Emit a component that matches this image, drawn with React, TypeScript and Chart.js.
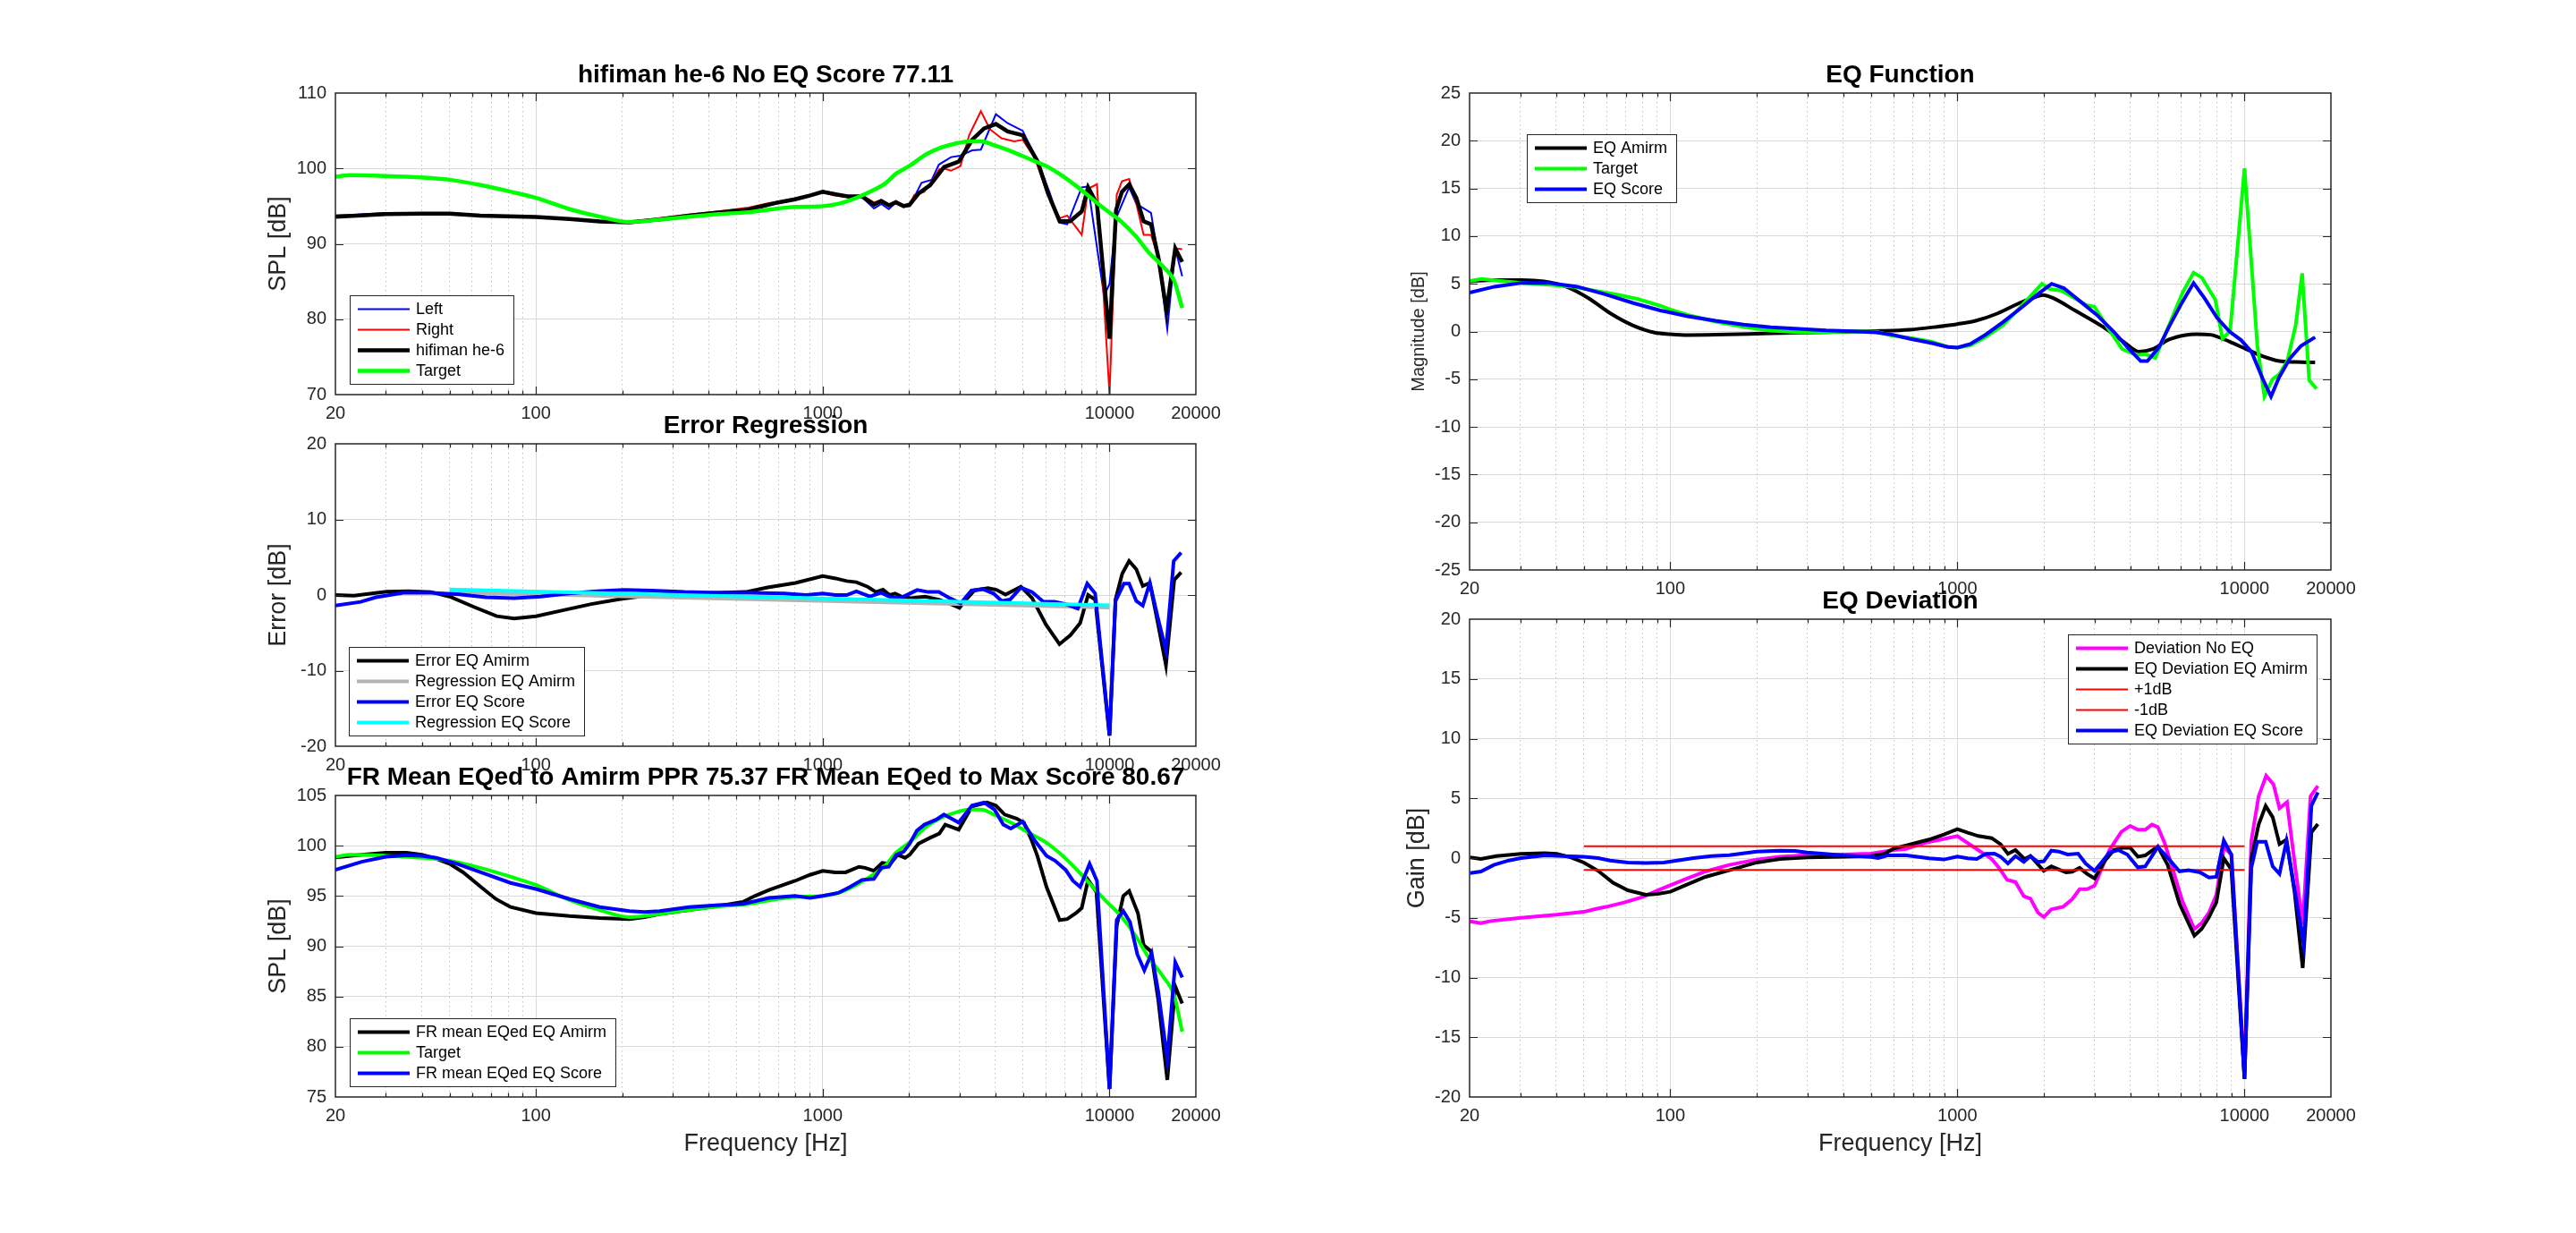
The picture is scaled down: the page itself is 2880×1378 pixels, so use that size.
import React, { useEffect, useRef } from 'react';
import { Chart, registerables } from 'chart.js';

Chart.register(...registerables);

const FONT = '"Liberation Sans", Arial, Helvetica, sans-serif';
const INK = '#262626';
Chart.defaults.font.family = FONT;

// ---------- axis ticks ----------
const xLabelTicks = [20, 100, 1000, 10000, 20000];
const xMinorTicks = [30, 40, 50, 60, 70, 80, 90, 200, 300, 400, 500, 600, 700, 800, 900, 2000, 3000, 4000, 5000, 6000, 7000, 8000, 9000];
const xTickValues = [...xLabelTicks, ...xMinorTicks].sort((a, b) => a - b);
const yTicksSpl = [70, 80, 90, 100, 110];
const yTicksErr = [-20, -10, 0, 10, 20];
const yTicksFr = [75, 80, 85, 90, 95, 100, 105];
const yTicksEq = [-25, -20, -15, -10, -5, 0, 5, 10, 15, 20, 25];
const yTicksDev = [-20, -15, -10, -5, 0, 5, 10, 15, 20];

// ---------- panel 1 : raw FR ----------
const fHe6 = [20, 30, 40, 50, 64, 100, 131, 167, 212, 270, 342, 434, 552, 600, 700, 800, 900, 1000, 1100, 1220, 1370, 1510, 1600, 1700, 1800, 1915, 2010, 2160, 2370, 2650, 2980, 3320, 3650, 4015, 4415, 4980, 5620, 6100, 6700, 7290, 8000, 8420, 9040, 10000, 10540, 11050, 11710, 12400, 13150, 13950, 14800, 15800, 16950, 17920];
const he6 = [93.6, 93.95, 94.0, 94.0, 93.75, 93.55, 93.3, 92.96, 92.85, 93.25, 93.75, 94.15, 94.55, 94.9, 95.5, 95.9, 96.4, 96.9, 96.6, 96.3, 96.3, 95.2, 95.7, 95.1, 95.5, 95.0, 95.2, 96.7, 97.8, 100.2, 100.9, 103.8, 105.3, 105.9, 104.9, 104.4, 100.9, 96.7, 93.0, 93.0, 94.3, 97.5, 95.3, 77.4, 94.5, 96.9, 97.9, 96.1, 93.0, 92.6, 88.2, 81.1, 89.4, 87.6];

const fLeft = [20, 30, 40, 50, 64, 100, 131, 167, 212, 270, 342, 434, 552, 700, 800, 900, 1000, 1100, 1220, 1370, 1510, 1600, 1700, 1800, 1915, 2010, 2210, 2400, 2540, 2800, 3020, 3320, 3560, 4015, 4415, 4980, 5620, 6170, 6700, 7120, 8000, 8420, 9570, 10000, 10540, 11710, 12400, 13950, 14800, 15900, 16950, 17920];
const left = [93.7, 94.1, 94.1, 94.1, 93.8, 93.55, 93.3, 92.9, 92.8, 93.1, 93.6, 94.1, 94.5, 95.4, 95.8, 96.4, 97.0, 96.7, 96.2, 96.2, 94.7, 95.3, 94.6, 95.5, 95.0, 95.0, 98.1, 98.5, 100.5, 101.5, 101.7, 102.4, 102.5, 107.2, 106.0, 105.0, 100.9, 96.9, 92.8, 92.6, 97.5, 97.6, 83.1, 84.7, 93.4, 97.5, 95.3, 94.1, 88.2, 78.7, 89.4, 85.7];

const fRight = [20, 30, 40, 50, 64, 100, 131, 167, 212, 270, 342, 434, 552, 650, 800, 900, 1000, 1100, 1220, 1370, 1508, 1600, 1700, 1800, 1915, 2010, 2086, 2260, 2400, 2550, 2645, 2800, 3020, 3240, 3560, 3830, 4200, 4650, 4980, 5500, 6030, 6700, 7120, 8000, 8420, 9040, 10000, 10590, 11050, 11710, 12400, 13150, 13950, 14800, 15800, 16950, 17920];
const right = [93.8, 93.85, 93.9, 93.9, 93.7, 93.55, 93.3, 93.0, 92.9, 93.4, 93.9, 94.3, 94.8, 95.4, 95.9, 96.4, 96.8, 96.4, 96.2, 96.4, 95.5, 95.8, 95.2, 95.7, 95.1, 95.3, 96.5, 96.9, 98.3, 99.9, 100.0, 99.7, 100.3, 104.4, 107.6, 105.2, 104.0, 103.6, 103.8, 101.3, 97.0, 93.4, 93.75, 91.2, 97.3, 97.9, 70, 96.5, 98.3, 98.6, 95.3, 91.2, 91.2, 88.2, 81.1, 89.4, 89.3];

const fTarget = [20, 22.6, 30, 40, 50, 64, 82, 100, 131, 167, 212, 270, 342, 434, 552, 650, 800, 1000, 1130, 1250, 1440, 1650, 1800, 2000, 2300, 2600, 2900, 3240, 3560, 4015, 4525, 5220, 6030, 6800, 7640, 8610, 9710, 10950, 12350, 13600, 15350, 16800, 17920];
const target = [98.9, 99.1, 99.0, 98.8, 98.5, 97.8, 96.9, 96.1, 94.6, 93.6, 92.9, 93.2, 93.6, 93.95, 94.2, 94.55, 94.9, 95.0, 95.3, 95.8, 96.8, 98.0, 99.3, 100.3, 101.9, 102.8, 103.3, 103.6, 103.6, 103.0, 102.3, 101.3, 100.3, 99.1, 97.7, 96.1, 94.5, 93.0, 91.0, 89.0, 87.0, 85.1, 81.5];

// ---------- panel 2 : error regression ----------
const fErrA = [20, 23.2, 28, 30.2, 36, 43, 50, 61, 73, 84, 100, 125, 156, 199, 253, 330, 431, 539, 643, 803, 1000, 1109, 1212, 1310, 1434, 1533, 1623, 1711, 1788, 1906, 2036, 2273, 2540, 2796, 2999, 3160, 3378, 3771, 4028, 4340, 4910, 5370, 6000, 6690, 7310, 7900, 8420, 8910, 10000, 10490, 11070, 11700, 12400, 13060, 13820, 14740, 15730, 16810, 17770];
const errA = [0, -0.1, 0.3, 0.43, 0.5, 0.4, -0.2, -1.6, -2.8, -3.1, -2.8, -2.0, -1.2, -0.5, 0, 0.2, 0.3, 0.4, 1.0, 1.6, 2.5, 2.2, 1.85, 1.7, 1.1, 0.4, 0.7, 0, 0.2, -0.3, -0.4, -0.2, -0.6, -1.2, -1.7, -0.6, 0.6, 0.9, 0.7, 0.05, 1.1, -0.4, -3.9, -6.5, -5.3, -3.7, 0, -0.6, -18.6, -0.6, 2.8, 4.5, 3.4, 1.2, 1.6, -3.7, -9.3, 2.0, 3.0];

const fErrS = [20, 24.5, 27.7, 34.5, 43, 54, 67, 84, 104, 130, 163, 203, 253, 330, 431, 564, 735, 877, 1000, 1109, 1212, 1310, 1460, 1600, 1724, 1866, 2135, 2330, 2540, 2770, 3026, 3300, 3600, 3940, 4210, 4500, 4910, 5370, 5880, 6430, 7030, 7750, 8360, 8910, 10000, 10490, 11220, 11700, 12400, 13060, 13820, 14740, 15730, 16740, 17770];
const errS = [-1.4, -0.9, -0.3, 0.3, 0.3, 0.1, -0.3, -0.4, -0.2, 0.2, 0.5, 0.67, 0.6, 0.4, 0.3, 0.3, 0.2, 0, 0.2, 0, 0, 0.5, -0.2, 0.3, -0.3, -0.4, 0.67, 0.4, 0.4, -0.4, -1.1, 0.6, 0.8, 0.2, -0.8, -0.6, 1.0, 0.4, -0.9, -0.9, -1.2, -1.8, 1.5, 0.2, -18.5, -0.8, 1.5, 1.5, -0.8, -1.4, 1.6, -3.0, -7.3, 4.5, 5.6];

const fReg = [50, 10000];
const regA = [0.35, -1.65];
const regS = [0.75, -1.35];

// ---------- panel 3 : FR mean EQed ----------
const fFrA = [20, 24.7, 30, 35.4, 40, 45, 50, 55.8, 64.3, 72.5, 81.6, 100, 131, 167, 212, 239, 270, 342, 434, 527, 580, 650, 800, 903, 1000, 1105, 1202, 1338, 1404, 1508, 1612, 1720, 1826, 1937, 2010, 2157, 2374, 2550, 2675, 2980, 3315, 3740, 4015, 4310, 4740, 5030, 5340, 5600, 6030, 6700, 7120, 7640, 8000, 8420, 9000, 10000, 10590, 11170, 11710, 12560, 13150, 13950, 14800, 15900, 16950, 17920];
const frA = [98.84, 99.1, 99.3, 99.3, 99.1, 98.7, 98.2, 97.35, 95.9, 94.7, 93.9, 93.3, 93.0, 92.8, 92.7, 92.9, 93.2, 93.6, 94.0, 94.4, 95.0, 95.6, 96.5, 97.1, 97.5, 97.35, 97.35, 97.9, 97.8, 97.5, 98.3, 98.2, 99.1, 98.8, 99.1, 100.2, 100.8, 101.2, 102.1, 101.6, 103.9, 104.3, 104.0, 103.1, 102.7, 102.3, 100.6, 99.0, 95.9, 92.6, 92.7, 93.3, 93.8, 96.6, 95.4, 75.8, 92.0, 95.0, 95.5, 93.3, 90.1, 89.5, 84.6, 76.7, 86.0, 84.3];

const fFrS = [20, 24.7, 30, 35.4, 40, 45, 53.1, 64.3, 81.6, 100, 131, 167, 212, 239, 270, 342, 434, 527, 650, 800, 903, 1000, 1132, 1245, 1371, 1508, 1602, 1700, 1803, 1915, 2010, 2130, 2263, 2490, 2645, 2980, 3315, 3650, 3970, 4260, 4525, 4980, 5490, 6030, 6470, 7030, 7460, 7900, 8520, 9040, 10000, 10590, 11170, 11790, 12500, 13220, 14020, 14800, 15900, 16950, 17920];
const frS = [97.6, 98.4, 98.9, 99.05, 99.0, 98.8, 98.2, 97.35, 96.3, 95.7, 94.7, 93.9, 93.5, 93.4, 93.5, 93.9, 94.1, 94.2, 94.8, 95.0, 94.8, 95.0, 95.3, 95.9, 96.6, 96.7, 97.8, 97.9, 99.1, 99.4, 100.2, 101.5, 102.1, 102.6, 103.1, 102.3, 104.0, 104.3, 103.6, 102.1, 101.7, 102.4, 100.5, 99.0, 98.5, 97.6, 96.5, 95.9, 98.2, 96.5, 75.8, 92.6, 93.5, 92.4, 89.2, 87.6, 89.3, 85.4, 78.75, 88.4, 86.9];

// ---------- panel 4 : EQ function ----------
const fEqA = [20, 24.4, 30.4, 36.3, 43.4, 51.9, 61.9, 74, 88.3, 100, 115, 144, 224, 349, 545, 680, 849, 1000, 1158, 1381, 1650, 1843, 1987, 2155, 2570, 3210, 3840, 4290, 4790, 5460, 6230, 6810, 7600, 8870, 10130, 11570, 13200, 15080, 17620];
const eqA = [5.26, 5.4, 5.4, 5.25, 4.7, 3.5, 1.9, 0.65, -0.12, -0.28, -0.37, -0.34, -0.19, -0.06, 0.06, 0.19, 0.5, 0.78, 1.12, 1.9, 3.0, 3.55, 3.83, 3.5, 2.2, 0.5, -1.2, -2.1, -1.84, -0.84, -0.37, -0.28, -0.34, -1.06, -1.84, -2.6, -3.1, -3.2, -3.24];

const fEqT = [20, 22, 25.6, 30.4, 38, 45.5, 54.2, 64.7, 77.3, 92.3, 100, 115, 144, 180, 224, 280, 349, 435, 521, 595, 680, 810, 925, 1000, 1110, 1262, 1440, 1650, 1805, 1970, 2100, 2300, 2570, 2810, 3000, 3350, 3750, 4200, 4540, 4890, 5460, 6090, 6650, 7110, 7920, 8380, 8910, 10000, 11090, 11730, 12530, 13200, 14090, 15080, 15880, 16800, 17810];
const eqT = [5.3, 5.5, 5.3, 5.1, 4.9, 4.7, 4.3, 3.9, 3.4, 2.7, 2.3, 1.74, 1.03, 0.5, 0.09, -0.06, -0.06, 0.03, -0.03, -0.44, -0.65, -1.06, -1.6, -1.68, -1.46, -0.53, 0.65, 2.5, 3.77, 5.0, 4.45, 4.3, 3.46, 2.77, 2.6, 0.34, -1.84, -2.46, -2.4, -2.77, 0.65, 4.1, 6.17, 5.64, 3.3, -0.75, 0.03, 17.1, -1.5, -6.8, -5.0, -4.5, -3.1, 0.65, 6.1, -5.1, -6.0];

const fEqS = [20, 24.4, 30.4, 38, 47.5, 59.3, 74, 92.3, 100, 115, 144, 180, 224, 280, 349, 435, 521, 595, 680, 810, 925, 1000, 1110, 1262, 1440, 1650, 1890, 2130, 2350, 2680, 3060, 3500, 3920, 4350, 4590, 5030, 5460, 6090, 6650, 7270, 8030, 8870, 9730, 10590, 11570, 12370, 13200, 14410, 15740, 17620];
const eqS = [4.08, 4.7, 5.1, 5.08, 4.7, 3.9, 3.0, 2.2, 2.0, 1.6, 1.12, 0.72, 0.44, 0.28, 0.12, 0.03, -0.1, -0.34, -0.75, -1.2, -1.62, -1.68, -1.3, -0.28, 0.97, 2.37, 3.83, 5.0, 4.55, 3.15, 1.74, 0, -1.68, -3.1, -3.1, -1.68, 0.5, 3.15, 5.08, 3.46, 1.43, 0, -0.9, -2.15, -4.95, -6.8, -4.8, -2.8, -1.5, -0.6];

// ---------- panel 5 : EQ deviation ----------
const fDevNo = [20.1, 21.9, 23.7, 30.2, 40.2, 50, 54.7, 60.2, 69.5, 80.3, 90.4, 100, 114.8, 132.6, 160.4, 200, 241, 300, 400, 500, 600, 657, 778, 877, 1000, 1062, 1141, 1225, 1316, 1397, 1490, 1593, 1704, 1797, 1908, 2000, 2124, 2337, 2511, 2665, 2829, 3004, 3189, 3386, 3725, 4000, 4250, 4510, 4760, 4990, 5265, 5650, 6070, 6690, 7090, 7520, 7980, 8470, 9000, 10000, 10560, 11200, 11900, 12620, 13240, 14060, 14940, 15950, 16980, 18010];
const devNo = [-5.3, -5.45, -5.27, -5.0, -4.74, -4.5, -4.27, -4.07, -3.7, -3.25, -2.7, -2.27, -1.7, -1.12, -0.57, -0.12, 0.12, 0.25, 0.3, 0.37, 0.67, 0.75, 1.3, 1.55, 1.85, 1.42, 0.92, 0.42, -0.07, -0.82, -1.82, -2.0, -3.2, -3.4, -4.57, -4.94, -4.3, -4.07, -3.44, -2.6, -2.6, -2.3, -0.82, 0.67, 2.2, 2.7, 2.37, 2.37, 2.8, 2.6, 1.3, -1.07, -3.57, -5.94, -5.44, -4.57, -3.07, 0.92, 0.3, -18, 1.42, 5.17, 6.9, 6.17, 4.17, 4.67, -0.32, -5.57, 5.17, 6.04];

const fDevA = [20.1, 21.9, 24.8, 30.2, 36.5, 40.2, 45.2, 50, 56.1, 63.2, 71.2, 82.2, 90.4, 100, 114.8, 132.6, 160.4, 200, 241, 300, 400, 500, 557, 600, 690, 797, 898, 1000, 1087, 1182, 1316, 1413, 1500, 1593, 1712, 1797, 2000, 2124, 2392, 2511, 2665, 2829, 3004, 3267, 3510, 3773, 4000, 4250, 4510, 4990, 5400, 5940, 6690, 7090, 7520, 7980, 8470, 9000, 10000, 10560, 11200, 11850, 12540, 13240, 14000, 14940, 15950, 17110, 18010];
const devA = [0.05, -0.07, 0.17, 0.35, 0.42, 0.35, 0.05, -0.37, -1.07, -2.07, -2.7, -3.07, -3.0, -2.82, -2.2, -1.57, -1.02, -0.37, -0.07, 0.05, 0.12, 0.17, 0.35, 0.8, 1.17, 1.55, 1.97, 2.42, 2.12, 1.85, 1.67, 1.17, 0.35, 0.67, -0.07, 0.17, -1.07, -0.7, -1.2, -1.15, -0.82, -1.32, -1.7, -0.2, 0.67, 0.87, 0.87, 0.12, 0.22, 0.97, -0.57, -3.82, -6.5, -5.94, -4.94, -3.7, -0.02, -0.95, -18.5, -0.07, 2.8, 4.37, 3.42, 1.17, 1.55, -2.82, -9.2, 2.17, 2.85];

const fDevS = [20.1, 21.9, 24.3, 27.4, 30.2, 36.5, 42.2, 50, 56.1, 61.7, 71.2, 82.2, 94.9, 104.4, 120.5, 139.1, 160.4, 200, 241, 272, 300, 345, 400, 500, 530, 570, 657, 797, 898, 1000, 1087, 1168, 1255, 1347, 1413, 1500, 1593, 1704, 1797, 1908, 2000, 2124, 2254, 2420, 2633, 2797, 3004, 3189, 3386, 3634, 3908, 4250, 4510, 4990, 5400, 5940, 6380, 7010, 7520, 7980, 8470, 9000, 10000, 10560, 11080, 11850, 12540, 13240, 14000, 14940, 16060, 17110, 18010];
const devS = [-1.25, -1.12, -0.57, -0.2, 0, 0.22, 0.17, 0.12, 0, -0.2, -0.37, -0.42, -0.37, -0.22, 0, 0.17, 0.25, 0.55, 0.62, 0.6, 0.47, 0.35, 0.22, 0.1, 0, 0.22, 0.25, -0.02, -0.12, 0.12, -0.02, -0.07, 0.35, 0.37, 0.12, -0.45, 0.17, -0.32, 0.17, -0.32, -0.27, 0.62, 0.55, 0.3, 0.37, -0.45, -1.07, -0.32, 0.47, 0.67, 0.3, -0.77, -0.7, 0.92, 0.05, -1.12, -1.02, -1.2, -1.62, -1.57, 1.47, 0.3, -18.5, -0.82, 1.37, 1.37, -0.7, -1.32, 1.42, -2.57, -7.2, 4.4, 5.5];

const fLim = [50, 10000];
const plus1 = [1, 1];
const minus1 = [-1, -1];

// ---------- panel specs ----------
type Line = { label: string; f: number[]; v: number[]; color: string; width: number; smooth?: boolean };
type Spec = {
  area: [number, number, number, number];
  title: string;
  yLabel: string;
  yLabelSize: number;
  yLabelOffset: number;
  yMin: number;
  yMax: number;
  yTicks: number[];
  xLabel?: string;
  legend: { corner: 'sw' | 'nw' | 'ne'; dx: number; dy: number };
  lines: Line[];
};

const BLUE = '#0000ff', RED = '#ff0000', BLACK = '#000000', GREEN = '#00ff00', GRAY = '#b3b3b3', CYAN = '#00ffff', MAGENTA = '#ff00ff';

const specs: Spec[] = [
  {
    area: [375, 104, 1337, 441], title: 'hifiman he-6 No EQ Score 77.11', yLabel: 'SPL [dB]', yLabelSize: 27, yLabelOffset: 63,
    yMin: 70, yMax: 110, yTicks: yTicksSpl, legend: { corner: 'sw', dx: 16, dy: 12 },
    lines: [
      { label: 'Left', f: fLeft, v: left, color: BLUE, width: 2 },
      { label: 'Right', f: fRight, v: right, color: RED, width: 2 },
      { label: 'hifiman he-6', f: fHe6, v: he6, color: BLACK, width: 4.5 },
      { label: 'Target', f: fTarget, v: target, color: GREEN, width: 4.5, smooth: true },
    ],
  },
  {
    area: [375, 496, 1337, 834], title: 'Error Regression', yLabel: 'Error [dB]', yLabelSize: 27, yLabelOffset: 63,
    yMin: -20, yMax: 20, yTicks: yTicksErr, legend: { corner: 'sw', dx: 15, dy: 12 },
    lines: [
      { label: 'Error EQ Amirm', f: fErrA, v: errA, color: BLACK, width: 4 },
      { label: 'Regression EQ Amirm', f: fReg, v: regA, color: GRAY, width: 4 },
      { label: 'Error EQ Score', f: fErrS, v: errS, color: BLUE, width: 4 },
      { label: 'Regression EQ Score', f: fReg, v: regS, color: CYAN, width: 4 },
    ],
  },
  {
    area: [375, 889, 1337, 1226], title: 'FR Mean EQed to Amirm PPR 75.37 FR Mean EQed to Max Score 80.67', yLabel: 'SPL [dB]', yLabelSize: 27, yLabelOffset: 63,
    yMin: 75, yMax: 105, yTicks: yTicksFr, xLabel: 'Frequency [Hz]', legend: { corner: 'sw', dx: 16, dy: 12 },
    lines: [
      { label: 'FR mean EQed EQ Amirm', f: fFrA, v: frA, color: BLACK, width: 4 },
      { label: 'Target', f: fTarget, v: target, color: GREEN, width: 4, smooth: true },
      { label: 'FR mean EQed EQ Score', f: fFrS, v: frS, color: BLUE, width: 4 },
    ],
  },
  {
    area: [1643, 104, 2606, 637], title: 'EQ Function', yLabel: 'Magnitude [dB]', yLabelSize: 20, yLabelOffset: 57,
    yMin: -25, yMax: 25, yTicks: yTicksEq, legend: { corner: 'nw', dx: 64, dy: 46 },
    lines: [
      { label: 'EQ Amirm', f: fEqA, v: eqA, color: BLACK, width: 4, smooth: true },
      { label: 'Target', f: fEqT, v: eqT, color: GREEN, width: 4 },
      { label: 'EQ Score', f: fEqS, v: eqS, color: BLUE, width: 4 },
    ],
  },
  {
    area: [1643, 692, 2606, 1226], title: 'EQ Deviation', yLabel: 'Gain [dB]', yLabelSize: 27, yLabelOffset: 58,
    yMin: -20, yMax: 20, yTicks: yTicksDev, xLabel: 'Frequency [Hz]', legend: { corner: 'ne', dx: 16, dy: 17 },
    lines: [
      { label: 'Deviation No EQ', f: fDevNo, v: devNo, color: MAGENTA, width: 4 },
      { label: 'EQ Deviation EQ Amirm', f: fDevA, v: devA, color: BLACK, width: 4 },
      { label: '+1dB', f: fLim, v: plus1, color: RED, width: 2 },
      { label: '-1dB', f: fLim, v: minus1, color: RED, width: 2 },
      { label: 'EQ Deviation EQ Score', f: fDevS, v: devS, color: BLUE, width: 4 },
    ],
  },
];

// ---------- layout constants ----------
const PL = 140, PT = 60, PR = 50, PB = 90, YW = 60, XH = 45;

const decor = (spec: Spec) => ({
  id: 'matlabDecor',
  afterDraw(chart: any) {
    const { ctx, chartArea: a, scales } = chart;
    const xs = scales.x, ys = scales.y;
    ctx.save();
    // inward tick marks
    ctx.strokeStyle = INK;
    ctx.lineWidth = 1.2;
    ctx.beginPath();
    for (const t of xs.ticks) {
      const v = t.value;
      if (v <= 20 || v >= 20000) continue;
      const px = Math.round(xs.getPixelForValue(v)) + 0.5;
      const len = xLabelTicks.includes(v) ? 9 : 4.5;
      ctx.moveTo(px, a.bottom); ctx.lineTo(px, a.bottom - len);
      ctx.moveTo(px, a.top); ctx.lineTo(px, a.top + len);
    }
    for (const t of ys.ticks) {
      const v = t.value;
      if (v <= spec.yMin || v >= spec.yMax) continue;
      const py = Math.round(ys.getPixelForValue(v)) + 0.5;
      ctx.moveTo(a.left, py); ctx.lineTo(a.left + 9, py);
      ctx.moveTo(a.right, py); ctx.lineTo(a.right - 9, py);
    }
    ctx.stroke();
    // box
    ctx.lineWidth = 1.5;
    ctx.strokeRect(a.left, a.top, a.right - a.left, a.bottom - a.top);
    // title
    ctx.fillStyle = '#000';
    ctx.font = `bold 28px ${FONT}`;
    ctx.textAlign = 'center';
    ctx.textBaseline = 'middle';
    ctx.fillText(spec.title, (a.left + a.right) / 2, a.top - 20);
    // y label
    ctx.fillStyle = INK;
    ctx.font = `${spec.yLabelSize}px ${FONT}`;
    ctx.save();
    ctx.translate(a.left - spec.yLabelOffset, (a.top + a.bottom) / 2);
    ctx.rotate(-Math.PI / 2);
    ctx.fillText(spec.yLabel, 0, 0);
    ctx.restore();
    // x label
    if (spec.xLabel) {
      ctx.font = `27px ${FONT}`;
      ctx.fillText(spec.xLabel, (a.left + a.right) / 2, a.bottom + 53);
    }
    // legend
    ctx.font = `18px ${FONT}`;
    const items = spec.lines;
    const tw = Math.max(...items.map((it) => ctx.measureText(it.label).width));
    const w = 74 + tw + 10;
    const h = 23 * items.length + 7;
    let x0 = a.left + spec.legend.dx;
    let y0 = a.top + spec.legend.dy;
    if (spec.legend.corner === 'sw') y0 = a.bottom - spec.legend.dy - h;
    if (spec.legend.corner === 'ne') x0 = a.right - spec.legend.dx - w;
    x0 = Math.round(x0); y0 = Math.round(y0);
    ctx.fillStyle = '#ffffff';
    ctx.fillRect(x0, y0, w, h);
    ctx.strokeStyle = INK;
    ctx.lineWidth = 1;
    ctx.strokeRect(x0 + 0.5, y0 + 0.5, Math.round(w), h);
    items.forEach((it, i) => {
      const cy = y0 + 15.5 + 23 * i;
      ctx.strokeStyle = it.color;
      ctx.lineWidth = it.width;
      ctx.beginPath();
      ctx.moveTo(x0 + 9, cy);
      ctx.lineTo(x0 + 67, cy);
      ctx.stroke();
      ctx.fillStyle = '#000';
      ctx.textAlign = 'left';
      ctx.textBaseline = 'middle';
      ctx.fillText(it.label, x0 + 74, cy + 1);
    });
    ctx.restore();
  },
});

function buildChart(canvas: HTMLCanvasElement, spec: Spec) {
  const n = spec.lines.length;
  const datasets = spec.lines.map((ln, i) => ({
    label: ln.label,
    data: ln.f.map((x, k) => ({ x, y: ln.v[k] })),
    borderColor: ln.color,
    backgroundColor: ln.color,
    borderWidth: ln.width,
    pointRadius: 0,
    pointHoverRadius: 0,
    fill: false,
    tension: ln.smooth ? 0.4 : 0,
    cubicInterpolationMode: ln.smooth ? 'monotone' : 'default',
    order: n - 1 - i,
    clip: 0,
  }));
  const isMajor = (v: number) => v === 100 || v === 1000 || v === 10000;
  return new Chart(canvas, {
    type: 'line',
    data: { datasets } as any,
    plugins: [decor(spec)],
    options: {
      responsive: false,
      animation: false,
      events: [],
      layout: { padding: { left: PL - YW, top: PT, right: PR, bottom: PB - XH } },
      plugins: { legend: { display: false }, tooltip: { enabled: false }, title: { display: false } },
      scales: {
        x: {
          type: 'logarithmic',
          min: 20,
          max: 20000,
          afterBuildTicks: (s: any) => { s.ticks = xTickValues.map((v) => ({ value: v })); },
          afterFit: (s: any) => { s.height = XH; },
          ticks: {
            autoSkip: false, maxRotation: 0, minRotation: 0, padding: 9, color: INK,
            font: { family: FONT, size: 20 },
            callback: (v: any) => (xLabelTicks.includes(Number(v)) ? String(v) : ''),
          },
          grid: {
            drawTicks: false,
            lineWidth: 1,
            color: (c: any) => {
              const v = c.tick ? c.tick.value : 0;
              if (v <= 20 || v >= 20000) return 'rgba(0,0,0,0)';
              return isMajor(v) ? '#d9d9d9' : '#c2c2c2';
            },
          },
          border: {
            display: false,
            dash: (c: any) => (c.tick && !isMajor(c.tick.value) ? [1.5, 3.5] : []),
          },
        },
        y: {
          type: 'linear',
          min: spec.yMin,
          max: spec.yMax,
          afterBuildTicks: (s: any) => { s.ticks = spec.yTicks.map((v) => ({ value: v })); },
          afterFit: (s: any) => { s.width = YW; },
          ticks: { padding: 10, color: INK, font: { family: FONT, size: 20 }, callback: (v: any) => String(v) },
          grid: {
            drawTicks: false,
            lineWidth: 1,
            color: (c: any) => {
              const v = c.tick ? c.tick.value : 0;
              return v <= spec.yMin || v >= spec.yMax ? 'rgba(0,0,0,0)' : '#d9d9d9';
            },
          },
          border: { display: false },
        },
      },
    } as any,
  });
}

function Panel({ spec }: { spec: Spec }) {
  const ref = useRef<HTMLCanvasElement | null>(null);
  const [L, T, R, B] = spec.area;
  const W = R - L + PL + PR;
  const H = B - T + PT + PB;
  useEffect(() => {
    if (!ref.current) return;
    const chart = buildChart(ref.current, spec);
    return () => chart.destroy();
  }, [spec]);
  return (
    <canvas
      ref={ref}
      width={W}
      height={H}
      style={{ position: 'absolute', left: L - PL, top: T - PT, width: W, height: H, display: 'block' }}
    />
  );
}

export default function App() {
  return (
    <div style={{ position: 'absolute', left: 0, top: 0, width: 2880, height: 1378, background: '#ffffff', overflow: 'hidden' }}>
      {specs.map((s, i) => (
        <Panel key={i} spec={s} />
      ))}
    </div>
  );
}
